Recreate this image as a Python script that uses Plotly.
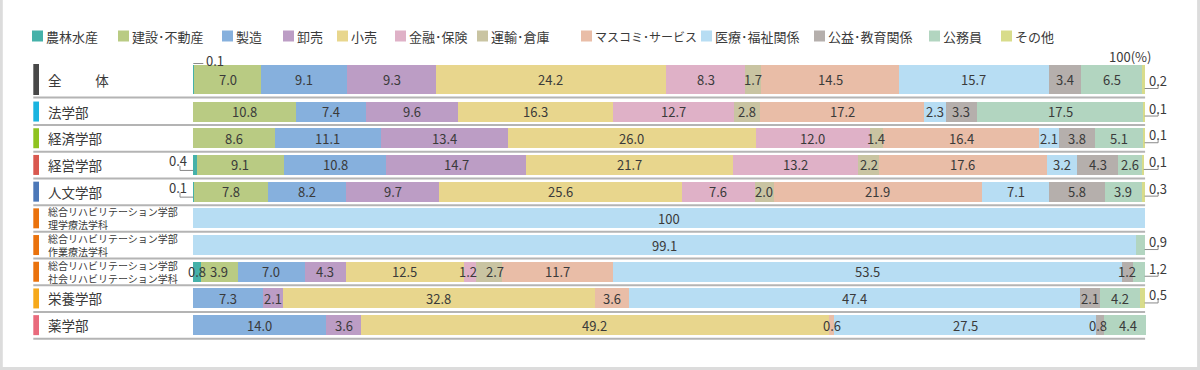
import plotly.graph_objects as go

# ---------------- data ----------------
industries = ["農林水産", "建設･不動産", "製造", "卸売", "小売", "金融･保険", "運輸･倉庫",
              "マスコミ･サービス", "医療･福祉関係", "公益･教育関係", "公務員", "その他"]
colors = ["#45b1a9", "#b9cb83", "#86b0dd", "#bc9dc5", "#e8d68d", "#dfb1c7", "#c9c4a2",
          "#e9bda7", "#b7ddf3", "#b5afac", "#b2d5c0", "#d8dc8b"]

row_labels = ["全　　\u2002体", "法学部", "経済学部", "経営学部", "人文学部",
              "総合リハビリテーション学部<br>理学療法学科",
              "総合リハビリテーション学部<br>作業療法学科",
              "総合リハビリテーション学部<br>社会リハビリテーション学科",
              "栄養学部", "薬学部"]
row_marker_colors = ["#484848", "#1ab4e0", "#8fc31f", "#d9584f", "#4c78b8",
                     "#ea720c", "#ea720c", "#ea720c", "#f6a91b", "#e96a7c"]

agri      = [0.1, 0.0, 0.0, 0.4, 0.1, 0.0, 0.0, 0.8, 0.0, 0.0]
constr    = [7.0, 10.8, 8.6, 9.1, 7.8, 0.0, 0.0, 3.9, 0.0, 0.0]
manuf     = [9.1, 7.4, 11.1, 10.8, 8.2, 0.0, 0.0, 7.0, 7.3, 14.0]
wholesale = [9.3, 9.6, 13.4, 14.7, 9.7, 0.0, 0.0, 4.3, 2.1, 3.6]
retail    = [24.2, 16.3, 26.0, 21.7, 25.6, 0.0, 0.0, 12.5, 32.8, 49.2]
finance   = [8.3, 12.7, 12.0, 13.2, 7.6, 0.0, 0.0, 1.2, 0.0, 0.0]
transport = [1.7, 2.8, 1.4, 2.2, 2.0, 0.0, 0.0, 2.7, 0.0, 0.0]
media     = [14.5, 17.2, 16.4, 17.6, 21.9, 0.0, 0.0, 11.7, 3.6, 0.6]
medical   = [15.7, 2.3, 2.1, 3.2, 7.1, 100.0, 99.1, 53.5, 47.4, 27.5]
utility   = [3.4, 3.3, 3.8, 4.3, 5.8, 0.0, 0.0, 1.2, 2.1, 0.8]
civil     = [6.5, 17.5, 5.1, 2.6, 3.9, 0.0, 0.9, 1.2, 4.2, 4.4]
other     = [0.2, 0.1, 0.1, 0.1, 0.3, 0.0, 0.0, 0.0, 0.5, 0.0]
series = [agri, constr, manuf, wholesale, retail, finance, transport,
          media, medical, utility, civil, other]

# ---------------- layout geometry ----------------
W, H = 1200, 370
X0_PX, X100_PX = 193.3, 1144.6
SCALE = (X100_PX - X0_PX) / 100.0
PITCH = 26.7
Y0_PX = 79.5
FIRST_GAP = 0.2
n_rows = len(row_labels)
ypos = [0.0] + [i + FIRST_GAP for i in range(1, n_rows)]
widths = [29 / PITCH] + [20 / PITCH] * (n_rows - 1)
# small horizontal nudges (px) for crowded value labels: (row, series) -> px
label_nudge = {(7, 5): -2, (7, 6): 6, (9, 9): -2, (9, 10): 3}


def px2x(px):
    return (px - X0_PX) / SCALE


def dpx(p):  # pixel offset -> y data units
    return p / PITCH


FONT = "Noto Sans CJK JP, Noto Sans, sans-serif"
TXT = "#3a3a3a"
LEAD = "#8a8a8a"

fig = go.Figure()
for name, vals, col in zip(industries, series, colors):
    fig.add_trace(go.Bar(
        orientation="h", x=vals, y=ypos, width=widths, name=name,
        marker=dict(color=col, line=dict(width=0)), showlegend=False,
        hoverinfo="x+name"))

annotations = []
shapes = []


def fmt(v):
    return "100" if v == 100 else f"{v:.1f}"


# value labels
for r in range(n_rows):
    vals = [s[r] for s in series]
    nz = [i for i, v in enumerate(vals) if v > 0]
    cum = 0.0
    half = widths[r] * PITCH / 2
    for i, v in enumerate(vals):
        if v <= 0:
            continue
        yc = ypos[r]
        if i == nz[0] and v < 0.5:
            if r == 0:
                ly = yc - dpx(half + 1.5)
                shapes.append(dict(type="line", xref="x", yref="y", x0=cum, x1=cum + px2x(X0_PX + 10),
                                   y0=ly, y1=ly, line=dict(color=LEAD, width=1)))
                annotations.append(dict(x=cum + px2x(X0_PX + 11), y=ly, xref="x", yref="y",
                                        text=fmt(v), showarrow=False, xanchor="left", yanchor="middle",
                                        yshift=3, font=dict(size=13, color=TXT, family=FONT)))
            else:
                ly = yc + dpx(5.5)
                xl = px2x(180)
                shapes.append(dict(type="line", xref="x", yref="y", x0=xl, x1=cum,
                                   y0=ly, y1=ly, line=dict(color=LEAD, width=1)))
                shapes.append(dict(type="line", xref="x", yref="y", x0=xl, x1=xl,
                                   y0=ly, y1=ly - dpx(4.5), line=dict(color=LEAD, width=1)))
                annotations.append(dict(x=cum, y=yc - dpx(4), xref="x", yref="y",
                                        text=fmt(v), showarrow=False, xanchor="right", yanchor="middle",
                                        xshift=-4, font=dict(size=13, color=TXT, family=FONT)))
        elif i == nz[-1] and v < 1.5:
            end = cum + v
            ly = yc + dpx(half - 5.5)
            xr = px2x(X100_PX + 13.5)
            shapes.append(dict(type="line", xref="x", yref="y", x0=end, x1=xr,
                               y0=ly, y1=ly, line=dict(color=LEAD, width=1)))
            shapes.append(dict(type="line", xref="x", yref="y", x0=xr, x1=xr,
                               y0=ly, y1=ly - dpx(3.5), line=dict(color=LEAD, width=1)))
            annotations.append(dict(x=px2x(X100_PX), y=ly - dpx(8), xref="x", yref="y",
                                    text=fmt(v), showarrow=False, xanchor="left", yanchor="middle",
                                    xshift=2, font=dict(size=13, color=TXT, family=FONT)))
        else:
            annotations.append(dict(x=cum + v / 2, y=yc, xref="x", yref="y", text=fmt(v),
                                    showarrow=False, xanchor="center", yanchor="middle",
                                    xshift=label_nudge.get((r, i), 0),
                                    font=dict(size=13, color=TXT, family=FONT)))
        cum += v

# row labels, markers and separators
for r in range(n_rows):
    yc = ypos[r]
    hw = widths[r] / 2
    two_line = "<br>" in row_labels[r]
    annotations.append(dict(x=46 / W, y=yc, xref="paper", yref="y", text=row_labels[r],
                            showarrow=False, xanchor="left", yanchor="middle", align="left",
                            font=dict(size=10 if two_line else 13.5, color=TXT, family=FONT)))
    ext = dpx(1) if r == 0 else 0
    shapes.append(dict(type="rect", xref="x", yref="y", x0=px2x(33.3), x1=px2x(39),
                       y0=yc - hw - ext, y1=yc + hw + ext, fillcolor=row_marker_colors[r],
                       line=dict(width=0)))
    sy = yc + hw + dpx(3.5)
    shapes.append(dict(type="line", xref="x", yref="y", x0=px2x(33.3), x1=px2x(X100_PX + 0.5),
                       y0=sy, y1=sy, line=dict(color="#b4b4b4", width=2)))

# 100(%) label
annotations.append(dict(x=100, y=ypos[0] - dpx(23.5), xref="x", yref="y", text="100(%)",
                        showarrow=False, xanchor="right", yanchor="middle", xshift=8,
                        font=dict(size=13, color=TXT, family=FONT)))

# manual legend
legend_x = [32, 118, 222, 283, 337, 395, 477, 581, 701, 814, 929, 1001]
legend_fs = [13, 13, 13, 13, 13, 13, 13, 12, 13, 13, 13, 13]
LEG_Y = 36
for lx, fs, name, col in zip(legend_x, legend_fs, industries, colors):
    shapes.append(dict(type="rect", xref="paper", yref="paper",
                       x0=lx / W, x1=(lx + 11) / W, y0=1 - (LEG_Y - 5.5) / H, y1=1 - (LEG_Y + 5.5) / H,
                       fillcolor=col, line=dict(width=0)))
    annotations.append(dict(x=(lx + 12) / W, y=1 - LEG_Y / H, xref="paper", yref="paper", text=name,
                            showarrow=False, xanchor="left", yanchor="middle",
                            font=dict(size=fs, color=TXT, family=FONT)))

# outer frame (left, right, bottom)
FR = "#dcdcdc"
shapes.append(dict(type="line", xref="paper", yref="paper", x0=1.3 / W, x1=1.3 / W, y0=0, y1=1,
                   line=dict(color=FR, width=3)))
shapes.append(dict(type="line", xref="paper", yref="paper", x0=1198.6 / W, x1=1198.6 / W, y0=0, y1=1,
                   line=dict(color=FR, width=3)))
shapes.append(dict(type="line", xref="paper", yref="paper", x0=0, x1=1, y0=1.4 / H, y1=1.4 / H,
                   line=dict(color=FR, width=3)))

fig.update_layout(
    width=W, height=H, barmode="stack", bargap=0,
    margin=dict(l=0, r=0, t=0, b=0),
    paper_bgcolor="white", plot_bgcolor="white",
    xaxis=dict(visible=False, range=[px2x(0), px2x(W)], domain=[0, 1], fixedrange=True),
    yaxis=dict(visible=False, range=[(H - Y0_PX) / PITCH, -Y0_PX / PITCH], domain=[0, 1],
               fixedrange=True),
    annotations=annotations, shapes=shapes,
    font=dict(family=FONT, color=TXT),
)

fig.write_html("out.html", config={"displayModeBar": False},
               post_script="document.body.style.margin='0';document.body.style.overflow='hidden';")
